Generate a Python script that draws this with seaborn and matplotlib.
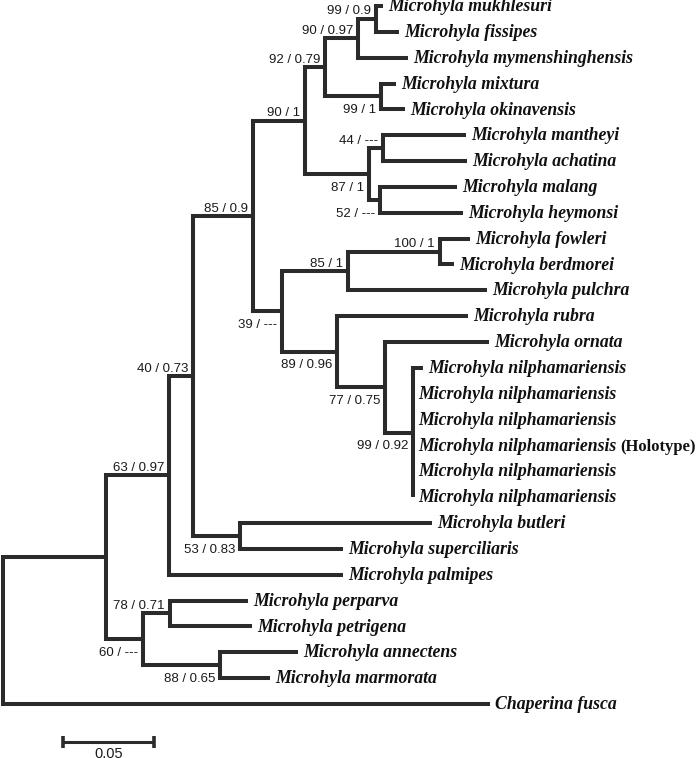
import matplotlib
matplotlib.use("Agg")
import matplotlib.pyplot as plt
import seaborn as sns
import pandas as pd
import numpy as np

# ---------------- data (preorder node list) ----------------
node_names = [
    "", "", "", "", "", "", "", "", "",
    "Microhyla mukhlesuri", "Microhyla fissipes", "Microhyla mymenshinghensis",
    "", "Microhyla mixtura", "Microhyla okinavensis",
    "", "", "Microhyla mantheyi", "Microhyla achatina",
    "", "Microhyla malang", "Microhyla heymonsi",
    "", "", "", "Microhyla fowleri", "Microhyla berdmorei", "Microhyla pulchra",
    "", "Microhyla rubra", "", "Microhyla ornata", "",
    "Microhyla nilphamariensis", "Microhyla nilphamariensis", "Microhyla nilphamariensis",
    "Microhyla nilphamariensis", "Microhyla nilphamariensis", "Microhyla nilphamariensis",
    "", "Microhyla butleri", "Microhyla superciliaris",
    "Microhyla palmipes",
    "", "", "Microhyla perparva", "Microhyla petrigena",
    "", "Microhyla annectens", "Microhyla marmorata",
    "Chaperina fusca",
]
node_parents = [
    -1, 0, 1, 2, 3, 4, 5, 6, 7,
    8, 8, 7,
    6, 12, 12,
    5, 15, 16, 16,
    15, 19, 19,
    4, 22, 23, 24, 24, 23,
    22, 28, 28, 30, 30,
    32, 32, 32, 32, 32, 32,
    3, 39, 39,
    2,
    1, 43, 44, 44,
    43, 47, 47,
    0,
]
branch_lengths = [
    0.0, 0.0566, 0.0346, 0.0132, 0.0330, 0.0286, 0.0110, 0.0181, 0.0099,
    0.0038, 0.0126, 0.0275,
    0.0308, 0.0082, 0.0132,
    0.0352, 0.0077, 0.0456, 0.0462,
    0.0060, 0.0423, 0.0456,
    0.0159, 0.0363, 0.0505, 0.0165, 0.0077, 0.0764,
    0.0302, 0.0720, 0.0264, 0.0571, 0.0154,
    0.0055, 0.0, 0.0, 0.0, 0.0, 0.0,
    0.0258, 0.1055, 0.0566,
    0.0956,
    0.0203, 0.0148, 0.0429, 0.0451,
    0.0423, 0.0429, 0.0275,
    0.2676,
]
support_labels = [
    "", "", "63 / 0.97", "40 / 0.73", "85 / 0.9", "90 / 1", "92 / 0.79", "90 / 0.97", "99 / 0.9",
    "", "", "",
    "99 / 1", "", "",
    "87 / 1", "44 / ---", "", "",
    "52 / ---", "", "",
    "39 / ---", "85 / 1", "100 / 1", "", "", "",
    "89 / 0.96", "", "77 / 0.75", "", "99 / 0.92",
    "", "", "", "", "", "",
    "53 / 0.83", "", "",
    "",
    "60 / ---", "78 / 0.71", "", "",
    "88 / 0.65", "", "",
    "",
]
support_sides = [
    "", "", "a", "a", "a", "a", "a", "a", "a",
    "", "", "",
    "b", "", "",
    "b", "a", "", "",
    "b", "", "",
    "b", "a", "a", "", "", "",
    "b", "", "b", "", "b",
    "", "", "", "", "", "",
    "b", "", "",
    "",
    "b", "a", "", "",
    "b", "", "",
    "",
]
holotype_index = 36
holotype_note = "(Holotype)"
scale_length = 0.05
scale_label = "0.05"

# ---------------- layout ----------------
sns.set_style("white")
plt.rcParams["font.family"] = ["Liberation Sans", "DejaVu Sans"]

n = len(node_names)
children = [[] for _ in range(n)]
for i, p in enumerate(node_parents):
    if p >= 0:
        children[p].append(i)
x = np.zeros(n)
for i in range(n):
    p = node_parents[i]
    if p >= 0:
        x[i] = x[p] + branch_lengths[i]
y = np.zeros(n)
k = 0
for i in range(n):
    if not children[i]:
        y[i] = k
        k += 1
n_leaves = k
for i in reversed(range(n)):
    if children[i]:
        y[i] = (y[children[i][0]] + y[children[i][-1]]) / 2

rows = []
seg = 0
for i in range(n):
    ch = children[i]
    if not ch:
        continue
    c1, ck = ch[0], ch[-1]
    for px, py in [(x[c1], y[c1]), (x[i], y[c1]), (x[i], y[ck]), (x[ck], y[ck])]:
        rows.append(dict(x=px, y=py, seg=seg))
    seg += 1
    for c in ch[1:-1]:
        if x[c] > x[i]:
            rows.append(dict(x=x[i], y=y[c], seg=seg))
            rows.append(dict(x=x[c], y=y[c], seg=seg))
            seg += 1
df = pd.DataFrame(rows)

fig = plt.figure(figsize=(7.0, 7.58), dpi=100)
ax = fig.add_axes([0, 0, 1, 1])
px_per_unit = 1820.0
row_px = 25.85
ax.set_xlim(-3 / px_per_unit, 697 / px_per_unit)
ax.set_ylim((758 - 6) / row_px, -6 / row_px)
ax.set_axis_off()

sns.lineplot(data=df, x="x", y="y", units="seg", estimator=None, sort=False,
             color="#2b2b2b", lw=2.9, ax=ax, legend=False,
             solid_joinstyle="miter", solid_capstyle="butt")

name_font = dict(family="Liberation Serif", weight="bold", style="italic", size=12.8)
for i in range(n):
    if children[i]:
        continue
    t = ax.annotate(node_names[i], (x[i], y[i]), xytext=(3.6, -3.7),
                    textcoords="offset points", ha="left", va="baseline",
                    color="#111111", annotation_clip=False, **name_font)
    if i == holotype_index:
        ax.annotate(holotype_note, xy=(1, 0), xycoords=t, xytext=(2.5, 0),
                    textcoords="offset points", ha="left", va="bottom",
                    color="#111111", family="Liberation Serif", weight="bold",
                    size=12.0)

for i in range(n):
    lab = support_labels[i]
    if not lab:
        continue
    dy = 3.2 if support_sides[i] == "a" else -12.0
    ax.annotate(lab, (x[i], y[i]), xytext=(-3.6, dy), textcoords="offset points",
                ha="right", va="baseline", size=9.5, color="#1a1a1a")

# scale bar
sx0 = 60 / px_per_unit
sy = n_leaves + 0.47
sb = pd.DataFrame(dict(x=[sx0, sx0 + scale_length], y=[sy, sy], seg=[0, 0]))
sns.lineplot(data=sb, x="x", y="y", units="seg", estimator=None, sort=False,
             color="#2b2b2b", lw=2.2, ax=ax, legend=False, solid_capstyle="butt")
for ex in (sx0, sx0 + scale_length):
    ax.plot([ex, ex], [sy - 0.23, sy + 0.23], color="#2b2b2b", lw=2.6,
            solid_capstyle="butt")
ax.annotate(scale_label, (sx0 + scale_length / 2, sy), xytext=(0, -11.5),
            textcoords="offset points", ha="center", va="baseline", size=10.5,
            color="#1a1a1a", annotation_clip=False)

fig.savefig("out.png", dpi=100, facecolor="white")
